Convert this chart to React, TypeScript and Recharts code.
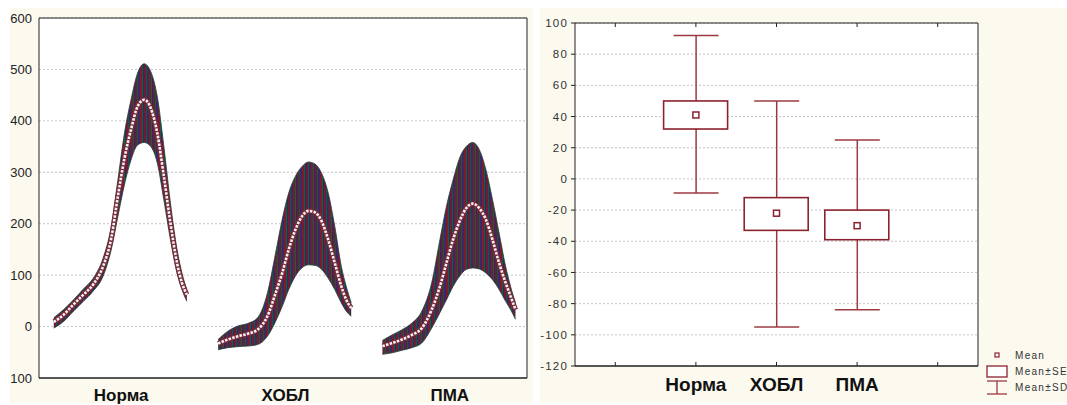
import React from "react";
import {
  Area,
  Bar,
  CartesianGrid,
  ComposedChart,
  Line,
  Scatter,
  XAxis,
  YAxis,
} from "recharts";

const groups = ["Норма", "ХОБЛ", "ПМА"];

// sample positions of each curve, relative to its group centre
const offsets = [
  -0.41, -0.35, -0.29, -0.23, -0.17, -0.11, -0.06, -0.02, 0.02, 0.06, 0.1,
  0.14, 0.18, 0.22, 0.26, 0.3, 0.34, 0.37, 0.4,
];

const normaUpper = [17, 33, 52, 73, 94, 133, 195, 285, 376, 441, 493, 511, 496, 447, 350, 240, 150, 104, 72];
const normaMean = [9, 23, 43, 62, 82, 117, 172, 253, 327, 383, 428, 441, 425, 376, 292, 201, 124, 85, 62];
const normaLower = [-3, 10, 30, 49, 69, 98, 150, 214, 276, 324, 353, 358, 350, 318, 246, 169, 104, 72, 49];

const hoblUpper = [-25, -9, 1, 6, 17, 65, 143, 208, 260, 292, 311, 320, 316, 298, 260, 195, 117, 78, 46];
const hoblMean = [-33, -25, -19, -14, -6, 20, 65, 104, 150, 188, 214, 225, 222, 205, 169, 124, 78, 52, 36];
const hoblLower = [-45, -41, -39, -38, -35, -19, 10, 39, 72, 98, 114, 120, 119, 111, 94, 72, 46, 30, 20];

const pmaUpper = [-27, -16, -6, 7, 30, 85, 169, 234, 285, 328, 350, 358, 344, 305, 247, 182, 117, 78, 46];
const pmaMean = [-38, -32, -25, -16, -3, 33, 78, 124, 169, 205, 230, 239, 230, 208, 169, 124, 85, 59, 33];
const pmaLower = [-54, -51, -46, -41, -32, -3, 27, 52, 78, 98, 111, 114, 112, 104, 91, 72, 49, 33, 14];

const leftTicks = [-100, 0, 100, 200, 300, 400, 500, 600];

// box plot (right panel)
const boxSlots = ["", "Норма", "ХОБЛ", "ПМА", " "];
const means = [41, -22, -30];
const seLow = [32, -33, -39];
const seHigh = [50, -12, -20];
const sdLow = [-9, -95, -84];
const sdHigh = [92, 50, 25];
const rightTicks = [-120, -100, -80, -60, -40, -20, 0, 20, 40, 60, 80, 100];

const FONT = "'Liberation Sans', Arial, sans-serif";
const CREAM = "#fcf9ef";
const RED = "#8b2230";
const GRID = "#c6c6c6";

type Pt = { x: number; lo: number; hi: number; mean: number };

const buildCurve = (cat: number, lower: number[], mean: number[], upper: number[]): Pt[] =>
  offsets.map((o, i) => ({ x: cat + o, lo: lower[i], hi: upper[i], mean: mean[i] }));

const curves = [
  buildCurve(1, normaLower, normaMean, normaUpper),
  buildCurve(2, hoblLower, hoblMean, hoblUpper),
  buildCurve(3, pmaLower, pmaMean, pmaUpper),
];

const boxRows = boxSlots.map((cat) => {
  const i = groups.indexOf(cat);
  if (i < 0) return { cat };
  return {
    cat,
    mean: means[i],
    se: [seLow[i], seHigh[i]],
    sd: [sdLow[i], sdHigh[i]],
  };
});

const Whisker = (props: any) => {
  const { x, y, width, height, payload } = props;
  if (!payload || !payload.sd) return <g />;
  const top = Math.min(y, y + height);
  const bot = Math.max(y, y + height);
  const cx = x + width / 2;
  return (
    <g stroke="#9c3a40" strokeWidth={1.5}>
      <line x1={cx} x2={cx} y1={top} y2={bot} />
      <line x1={x} x2={x + width} y1={top} y2={top} />
      <line x1={x} x2={x + width} y1={bot} y2={bot} />
    </g>
  );
};

const BoxShape = (props: any) => {
  const { x, y, width, height, payload } = props;
  if (!payload || !payload.se) return <g />;
  return (
    <rect
      x={x}
      y={Math.min(y, y + height)}
      width={width}
      height={Math.abs(height)}
      fill="#fff"
      stroke={RED}
      strokeWidth={1.6}
    />
  );
};

const MeanShape = (props: any) => {
  const { cx, cy, payload } = props;
  if (!payload || payload.mean == null) return <g />;
  return <rect x={cx - 3} y={cy - 3} width={6} height={6} fill="#fff" stroke={RED} strokeWidth={1.5} />;
};

const LeftChart = () => (
  <ComposedChart width={533} height={405} margin={{ top: 18, right: 6, left: 10, bottom: 0 }}>
    <defs>
      <pattern id="stripes" patternUnits="userSpaceOnUse" width="9" height="10">
        <rect x="0" y="0" width="2" height="10" fill="#6e1a3a" />
        <rect x="2" y="0" width="1" height="10" fill="#0f5c3a" />
        <rect x="3" y="0" width="2" height="10" fill="#3a2868" />
        <rect x="5" y="0" width="2" height="10" fill="#7a1c2c" />
        <rect x="7" y="0" width="1" height="10" fill="#12603c" />
        <rect x="8" y="0" width="1" height="10" fill="#2e2a5e" />
      </pattern>
    </defs>
    <CartesianGrid vertical={false} stroke={GRID} strokeDasharray="2 2" fill="#fff" />
    <XAxis
      type="number"
      dataKey="x"
      domain={[0.5, 3.47]}
      ticks={[1, 2, 3]}
      allowDataOverflow
      tickFormatter={(v: number) => groups[v - 1]}
      tick={{ fontSize: 17, fontWeight: "bold", fill: "#111", fontFamily: FONT }}
      tickLine={false}
      tickSize={0}
      tickMargin={11}
      height={27}
      stroke="#222"
    />
    <XAxis
      xAxisId="bt"
      type="number"
      domain={[0.5, 3.47]}
      ticks={[1, 2, 3]}
      mirror
      tickFormatter={() => ""}
      tickSize={4}
      stroke="#222"
    />
    <XAxis xAxisId="top" type="number" domain={[0.5, 3.47]} orientation="top" mirror tick={false} stroke="#222" />
    <YAxis
      type="number"
      domain={[-100, 600]}
      ticks={leftTicks}
      allowDataOverflow
      tickFormatter={(v: number) => String(Math.abs(v))}
      tick={{ fontSize: 13, fill: "#222", fontFamily: FONT }}
      tickLine={false}
      tickSize={5}
      tickMargin={2}
      width={29}
      stroke="#222"
    />
    <YAxis yAxisId="r" type="number" domain={[-100, 600]} orientation="right" mirror tick={false} stroke="#222" />
    {curves.map((c, i) => (
      <Area
        key={"band" + i}
        data={c}
        dataKey={(d: Pt) => [d.lo, d.hi]}
        type="monotone"
        fill="url(#stripes)"
        fillOpacity={1}
        stroke="#1f3d33"
        strokeWidth={0.8}
        isAnimationActive={false}
      />
    ))}
    {curves.map((c, i) => (
      <Line
        key={"meanBase" + i}
        data={c}
        dataKey="mean"
        type="monotone"
        stroke="#7a2a3a"
        strokeWidth={5}
        dot={false}
        isAnimationActive={false}
      />
    ))}
    {curves.map((c, i) => (
      <Line
        key={"meanDots" + i}
        data={c}
        dataKey="mean"
        type="monotone"
        stroke="#f4f4f4"
        strokeWidth={2.6}
        strokeDasharray="2.5 1.3"
        dot={false}
        isAnimationActive={false}
      />
    ))}
  </ComposedChart>
);

const RightChart = () => (
  <ComposedChart width={527} height={405} data={boxRows} margin={{ top: 23, right: 89, left: 5, bottom: 0 }}>
    <CartesianGrid xAxisId="a" vertical={false} stroke={GRID} strokeDasharray="2 2" fill="#fff" />
    <XAxis
      xAxisId="a"
      dataKey="cat"
      interval={0}
      tick={{ fontSize: 19, fontWeight: "bold", fill: "#111", fontFamily: FONT }}
      tickLine={false}
      tickSize={0}
      tickMargin={12}
      height={39}
      stroke="#222"
    />
    <XAxis xAxisId="b" dataKey="cat" hide />
    <XAxis xAxisId="bt" dataKey="cat" mirror interval={0} tickFormatter={() => ""} tickSize={4} stroke="#222" />
    <XAxis
      xAxisId="top"
      dataKey="cat"
      orientation="top"
      mirror
      interval={0}
      tickFormatter={() => ""}
      tickSize={4}
      stroke="#222"
    />
    <YAxis
      type="number"
      domain={[-120, 100]}
      ticks={rightTicks}
      allowDataOverflow
      tick={{ fontSize: 11.5, fill: "#333", fontFamily: FONT, letterSpacing: 1.2 }}
      tickSize={4}
      tickMargin={3}
      width={30}
      stroke="#222"
    />
    <YAxis
      yAxisId="r"
      type="number"
      domain={[-120, 100]}
      ticks={rightTicks}
      orientation="right"
      mirror
      tickFormatter={() => ""}
      tickSize={4}
      stroke="#222"
    />
    <Bar xAxisId="a" dataKey="sd" barSize={45} shape={Whisker} isAnimationActive={false} />
    <Bar xAxisId="b" dataKey="se" barSize={64} shape={BoxShape} isAnimationActive={false} />
    <Scatter xAxisId="a" dataKey="mean" shape={MeanShape} isAnimationActive={false} />
  </ComposedChart>
);

const BoxLegend = () => (
  <svg width={90} height={50} style={{ position: "absolute", left: 980, top: 348 }}>
    <g fontFamily={FONT} fontSize={10} fill="#333" letterSpacing={1.3}>
      <rect x={15} y={5} width={4} height={4} fill="#fff" stroke={RED} strokeWidth={1.2} />
      <text x={35} y={10.5}>Mean</text>
      <rect x={7} y={18} width={20} height={11} fill="#fff" stroke={RED} strokeWidth={1.3} />
      <text x={35} y={27}>Mean±SE</text>
      <g stroke="#9c3a40" strokeWidth={1.3}>
        <line x1={7} x2={27} y1={33} y2={33} />
        <line x1={17} x2={17} y1={33} y2={46} />
        <line x1={7} x2={27} y1={46} y2={46} />
      </g>
      <text x={35} y={43}>Mean±SD</text>
    </g>
  </svg>
);

export default function App() {
  return (
    <div
      style={{
        position: "absolute",
        left: 0,
        top: 0,
        width: 1067,
        height: 405,
        background: "#fff",
        overflow: "hidden",
        fontFamily: FONT,
      }}
    >
      <div style={{ position: "absolute", left: 10, top: 8, width: 523, height: 395, background: CREAM }} />
      <div style={{ position: "absolute", left: 540, top: 8, width: 527, height: 395, background: CREAM }} />
      <div style={{ position: "absolute", left: 0, top: 0 }}>
        <LeftChart />
      </div>
      <div style={{ position: "absolute", left: 540, top: 0 }}>
        <RightChart />
      </div>
      <BoxLegend />
    </div>
  );
}
